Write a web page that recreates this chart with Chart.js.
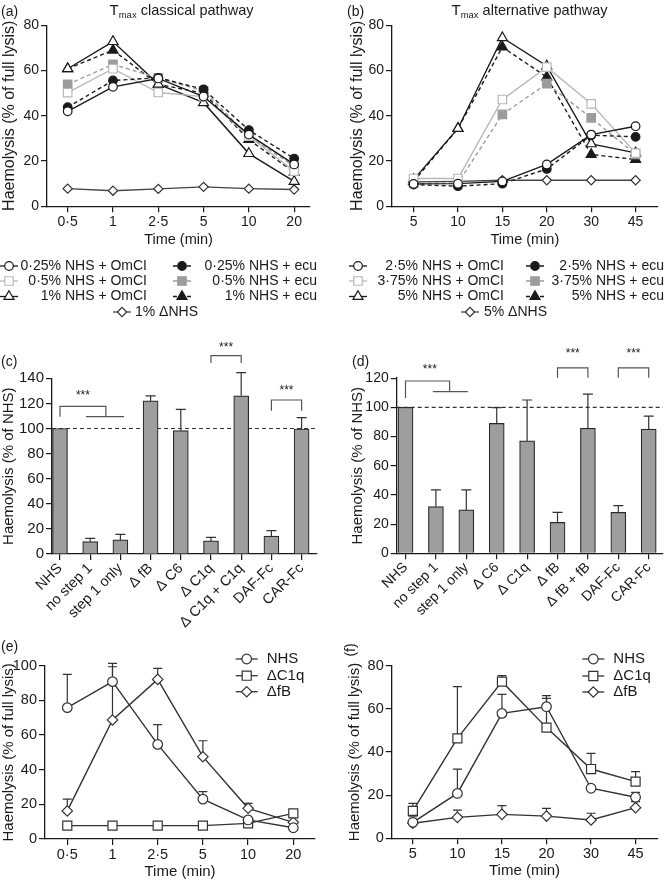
<!DOCTYPE html>
<html><head><meta charset="utf-8">
<script src="https://cdn.jsdelivr.net/npm/chart.js@4.4.1/dist/chart.umd.min.js"></script>
<style>
html,body{margin:0;padding:0;background:#fff;}
body{width:665px;height:882px;position:relative;overflow:hidden;}
canvas{position:absolute;}
</style></head><body>
<canvas id="cA" style="left:0px;top:0px;width:332px;height:335px" width="332" height="335"></canvas>
<canvas id="cB" style="left:332px;top:0px;width:333px;height:335px" width="333" height="335"></canvas>
<canvas id="cC" style="left:0px;top:335px;width:332px;height:300px" width="332" height="300"></canvas>
<canvas id="cD" style="left:332px;top:335px;width:333px;height:300px" width="333" height="300"></canvas>
<canvas id="cE" style="left:0px;top:590px;width:332px;height:292px" width="332" height="292"></canvas>
<canvas id="cF" style="left:332px;top:590px;width:333px;height:292px" width="333" height="292"></canvas>
<script>
// ---------------- DATA ----------------
const timeClassical = ['0·5','1','2·5','5','10','20'];
const timeAlternative = ['5','10','15','20','30','45'];

// (a) Tmax classical pathway (% of full lysis)
const a_omcl025 = [42, 52.8, 56.5, 48.5, 31.7, 18.5];
const a_ecu025  = [43.8, 55.6, 56.8, 51.7, 33.7, 21.1];
const a_omcl05  = [50.2, 60.8, 50.3, 48.5, 31, 15.5];
const a_ecu05   = [53.9, 62.7, 56.8, 51, 31, 17.7];
const a_omcl1   = [60.8, 72.8, 54, 45.8, 23.3, 11];
const a_ecu1    = [60.8, 69, 53.9, 50, 29.5, 15];
const a_dnhs1   = [7.8, 6.9, 7.7, 8.6, 7.8, 7.4];

// (b) Tmax alternative pathway (% of full lysis)
const b_omcl25  = [9.9, 10, 11, 18.5, 31.7, 35.4];
const b_ecu25   = [9.6, 8.9, 10, 16.5, 31.4, 30.7];
const b_omcl375 = [12.3, 12.3, 47.2, 61.5, 45.3, 23.5];
const b_ecu375  = [10.3, 10.3, 40.6, 54.2, 39.1, 22.9];
const b_omcl5   = [11.8, 34.4, 74.5, 62, 27.6, 23.6];
const b_ecu5    = [11, 34.4, 70.4, 57.1, 22.9, 20.7];
const b_dnhs5   = [10.8, 11, 11.5, 11.5, 11.5, 11.5];

// (c) classical, % of NHS
const c_labels = ['NHS','no step 1','step 1 only','Δ fB','Δ C6','Δ C1q','Δ C1q + C1q','DAF-Fc','CAR-Fc'];
const c_values = [100, 9.8, 11.2, 122, 98.3, 10.4, 126, 14.3, 99.6];
const c_errTop = [null, 12.5, 15.7, 126, 115.3, 13.3, 144.5, 18.6, 108.7];

// (d) alternative, % of NHS
const d_labels = ['NHS','no step 1','step 1 only','Δ C6','Δ C1q','Δ fB','Δ fB + fB','DAF-Fc','CAR-Fc'];
const d_values = [100, 32, 29.7, 89, 77, 21.2, 85.6, 28, 85];
const d_errTop = [null, 43.4, 43.4, 99.8, 105, 28, 109, 32.6, 94];

// (e) classical time course
const e_nhs     = [75.8, 90.8, 54.6, 23, 11, 6.5];
const e_nhsErr  = [95, 101.3, 66, 27.3, null, null];
const e_dc1q    = [7.7, 7.7, 7.7, 7.7, 9, 14.8];
const e_dc1qErr = [null, null, null, null, null, null];
const e_dfb     = [16.2, 68.7, 92.1, 47.5, 17.7, 9.6];
const e_dfbErr  = [23, 99.4, 98.5, 56.7, 20.6, null];

// (f) alternative time course
const f_nhs     = [7.4, 20.8, 57.9, 61, 23.2, 19];
const f_nhsErr  = [null, 32.1, 66.7, 66.1, null, 21.3];
const f_dc1q    = [12.7, 46.3, 72.6, 51.3, 32.1, 26.3];
const f_dc1qErr = [16.2, 70.3, 75.4, 64.9, 39.4, 30.9];
const f_dfb     = [7, 9.7, 11.1, 10.3, 8.5, 14.2];
const f_dfbErr  = [10, 13.1, 15.1, 13.9, 11.6, 17];

// ---------------- STYLE ----------------
const FONT = '"Liberation Sans", Arial, Helvetica, sans-serif';
const INK = '#1a1a1a';
const LIGHT = '#b8b8b8';
const MID = '#9c9c9c';

function drawMarker(ctx, style, r, x, y, fill, stroke, lw) {
  ctx.save();
  ctx.beginPath();
  if (style === 'circle') ctx.arc(x, y, r, 0, Math.PI * 2);
  else if (style === 'rect') { const s = r * Math.SQRT1_2; ctx.rect(x - s, y - s, 2 * s, 2 * s); }
  else if (style === 'triangle') {
    let a = 0;
    ctx.moveTo(x + Math.sin(a) * r, y - Math.cos(a) * r);
    a += 2 * Math.PI / 3; ctx.lineTo(x + Math.sin(a) * r, y - Math.cos(a) * r);
    a += 2 * Math.PI / 3; ctx.lineTo(x + Math.sin(a) * r, y - Math.cos(a) * r);
    ctx.closePath();
  } else if (style === 'rectRot') {
    ctx.moveTo(x - r, y); ctx.lineTo(x, y - r); ctx.lineTo(x + r, y); ctx.lineTo(x, y + r); ctx.closePath();
  }
  ctx.fillStyle = fill; ctx.fill();
  ctx.lineWidth = lw; ctx.strokeStyle = stroke; ctx.stroke();
  ctx.restore();
}

const decorPlugin = {
  id: 'decor',
  beforeDatasetsDraw(chart, args, o) {
    if (!o || !o.on) return;
    const ctx = chart.ctx, xs = chart.scales.x, ys = chart.scales.y, ca = chart.chartArea;
    if (o.refLine != null) {
      ctx.save(); ctx.strokeStyle = '#333'; ctx.lineWidth = 1.2; ctx.setLineDash([4, 3]);
      const y = ys.getPixelForValue(o.refLine);
      ctx.beginPath(); ctx.moveTo(ca.left, y); ctx.lineTo(ca.right, y); ctx.stroke(); ctx.restore();
    }
    chart.data.datasets.forEach(ds => {
      if (!ds.errTop) return;
      ctx.save(); ctx.strokeStyle = o.errColor || '#333'; ctx.lineWidth = 1.2;
      ds.errTop.forEach((t, i) => {
        if (t == null) return;
        const p = ds.data[i];
        const x = xs.getPixelForValue(p.x), y0 = ys.getPixelForValue(p.y), y1 = ys.getPixelForValue(t);
        ctx.beginPath(); ctx.moveTo(x, y0); ctx.lineTo(x, y1);
        ctx.moveTo(x - o.cap, y1); ctx.lineTo(x + o.cap, y1); ctx.stroke();
      });
      ctx.restore();
    });
  },
  afterDraw(chart, args, o) {
    if (!o || !o.on) return;
    const ctx = chart.ctx, xs = chart.scales.x, ys = chart.scales.y;
    (o.brackets || []).forEach(b => {
      ctx.save(); ctx.strokeStyle = '#555'; ctx.lineWidth = 1.2;
      const x1 = xs.getPixelForValue(b.x1), x2 = xs.getPixelForValue(b.x2);
      ctx.beginPath();
      ctx.moveTo(x1, ys.getPixelForValue(b.yLeft));
      ctx.lineTo(x1, ys.getPixelForValue(b.yTop));
      ctx.lineTo(x2, ys.getPixelForValue(b.yTop));
      ctx.lineTo(x2, ys.getPixelForValue(b.yRight));
      if (b.sub) {
        const yr = ys.getPixelForValue(b.yRight);
        ctx.moveTo(xs.getPixelForValue(b.sub[0]), yr);
        ctx.lineTo(xs.getPixelForValue(b.sub[1]), yr);
      }
      ctx.stroke();
      ctx.fillStyle = INK; ctx.font = '12px ' + FONT; ctx.textAlign = 'center'; ctx.textBaseline = 'middle';
      ctx.fillText('***', xs.getPixelForValue(b.sx), ys.getPixelForValue(b.sy));
      ctx.restore();
    });
    (o.texts || []).forEach(t => {
      ctx.save(); ctx.fillStyle = INK; ctx.font = t.size + 'px ' + FONT;
      ctx.textAlign = t.align || 'left'; ctx.textBaseline = 'middle';
      ctx.translate(t.x, t.y); if (t.rot) ctx.rotate(t.rot);
      ctx.fillText(t.t, 0, 0); ctx.restore();
    });
    if (o.title) {
      const T = o.title;
      ctx.save(); ctx.fillStyle = INK; ctx.textBaseline = 'middle'; ctx.textAlign = 'left';
      ctx.font = '15px ' + FONT; const w1 = ctx.measureText(T.main).width;
      ctx.font = '9.5px ' + FONT; const w2 = ctx.measureText(T.sub).width;
      ctx.font = '14.5px ' + FONT; const w3 = ctx.measureText(T.rest).width;
      let x = T.cx - (w1 + w2 + w3) / 2;
      ctx.font = '15px ' + FONT; ctx.fillText(T.main, x, T.y); x += w1;
      ctx.font = '9.5px ' + FONT; ctx.fillText(T.sub, x, T.y + 4); x += w2;
      ctx.font = '14.5px ' + FONT; ctx.fillText(T.rest, x, T.y);
      ctx.restore();
    }
    (o.legend || []).forEach(L => {
      const ds = chart.data.datasets[L.ds];
      ctx.save();
      ctx.strokeStyle = ds.borderColor; ctx.lineWidth = 1.3; ctx.setLineDash(ds.borderDash || []);
      ctx.beginPath(); ctx.moveTo(L.sx - L.half, L.y); ctx.lineTo(L.sx + L.half, L.y); ctx.stroke();
      ctx.setLineDash([]);
      drawMarker(ctx, ds.pointStyle, ds.pointRadius, L.sx, L.y, ds.pointBackgroundColor, ds.pointBorderColor, 1.2);
      ctx.fillStyle = INK; ctx.font = L.size + 'px ' + FONT; ctx.textBaseline = 'middle';
      ctx.textAlign = L.align; ctx.fillText(ds.label, L.tx, L.y);
      ctx.restore();
    });
  }
};
Chart.register(decorPlugin);

function lineDS(label, values, st, err) {
  return {
    label, data: values.map((v, i) => ({x: i, y: v})),
    borderColor: st.line, borderWidth: 1.4, borderDash: st.dash || [],
    pointStyle: st.style, pointRadius: st.r, pointBackgroundColor: st.fill,
    pointBorderColor: st.stroke, pointBorderWidth: 1.2, tension: 0, fill: false,
    errTop: err || null
  };
}

function makeScales(p) {
  const grid = { display: true, drawOnChartArea: false, drawTicks: true, tickLength: 6, color: INK, lineWidth: 1.2, offset: false };
  const border = { display: true, color: INK, width: 1.3 };
  return {
    x: {
      type: 'linear', min: p.xmin, max: p.xmax, offset: false, bounds: 'data',
      afterBuildTicks: s => { s.ticks = p.labels.map((_, i) => ({value: i})); },
      afterFit: s => { s.height = p.xH; },
      ticks: { autoSkip: false, maxRotation: p.rot || 0, minRotation: p.rot || 0, padding: p.xTickPad == null ? 1 : p.xTickPad,
        color: INK, font: {family: FONT, size: p.xTickSize || p.tickSize}, callback: v => p.labels[v] },
      grid, border,
      title: p.xTitle ? { display: true, text: p.xTitle, color: INK, font: {family: FONT, size: p.xTitleSize}, padding: 0 } : { display: false }
    },
    y: {
      type: 'linear', min: 0, max: p.ymax,
      afterFit: s => { s.width = p.yW; },
      ticks: { stepSize: 20, padding: 2, color: INK, font: {family: FONT, size: p.tickSize} },
      grid, border,
      title: { display: true, text: p.yTitle, color: INK, font: {family: FONT, size: p.yTitleSize}, padding: 0 }
    }
  };
}

function mkChart(id, type, datasets, p) {
  return new Chart(document.getElementById(id), {
    type, data: { datasets },
    options: {
      responsive: false, animation: false, events: [],
      layout: { padding: p.pad },
      plugins: { legend: {display: false}, tooltip: {enabled: false}, decor: Object.assign({on: true}, p.decor) },
      scales: makeScales(p)
    }
  });
}

const S = {
  openCircle:   {line: INK, style: 'circle', r: 4.3, fill: '#fff', stroke: INK},
  fillCircle:   {line: INK, dash: [4, 3], style: 'circle', r: 4.3, fill: INK, stroke: INK},
  openSquare:   {line: LIGHT, style: 'rect', r: 6, fill: '#fff', stroke: LIGHT},
  fillSquare:   {line: MID, dash: [4, 3], style: 'rect', r: 6, fill: MID, stroke: MID},
  openTri:      {line: INK, style: 'triangle', r: 5.8, fill: '#fff', stroke: INK},
  fillTri:      {line: INK, dash: [4, 3], style: 'triangle', r: 5.8, fill: INK, stroke: INK},
  openDiamond:  {line: '#444', style: 'rectRot', r: 4.6, fill: '#fff', stroke: '#333'},
  eCircle:      {line: '#333', style: 'circle', r: 4.8, fill: '#fff', stroke: '#333'},
  eSquare:      {line: '#333', style: 'rect', r: 6.4, fill: '#fff', stroke: '#333'},
  eDiamond:     {line: '#333', style: 'rectRot', r: 5.2, fill: '#fff', stroke: '#333'}
};

// ---------------- (a) ----------------
const legRowsAB = [266, 281, 296.5, 312];
mkChart('cA', 'line', [
  lineDS('0·25% NHS + OmCI', a_omcl025, S.openCircle),
  lineDS('0·25% NHS + ecu', a_ecu025, S.fillCircle),
  lineDS('0·5% NHS + OmCI', a_omcl05, S.openSquare),
  lineDS('0·5% NHS + ecu', a_ecu05, S.fillSquare),
  lineDS('1% NHS + OmCI', a_omcl1, S.openTri),
  lineDS('1% NHS + ecu', a_ecu1, S.fillTri),
  lineDS('1% ΔNHS', a_dnhs1, S.openDiamond)
], {
  labels: timeClassical, xmin: -0.457, xmax: 5.35, ymax: 80, yW: 47, xH: 42.4,
  pad: {left: 0, top: 25.3, right: 22, bottom: 86.3},
  tickSize: 14, yTitle: 'Haemolysis (% of full lysis)', yTitleSize: 16, xTitle: 'Time (min)', xTitleSize: 14.5,
  decor: {
    title: {cx: 181.5, y: 11, main: 'T', sub: 'max', rest: ' classical pathway'},
    texts: [{t: '(a)', x: 1, y: 12, size: 14}],
    legend: [
      {ds: 0, sx: 9, y: legRowsAB[0], tx: 147, align: 'right', half: 9, size: 14},
      {ds: 1, sx: 182, y: legRowsAB[0], tx: 317, align: 'right', half: 9, size: 14},
      {ds: 2, sx: 9, y: legRowsAB[1], tx: 147, align: 'right', half: 9, size: 14},
      {ds: 3, sx: 182, y: legRowsAB[1], tx: 317, align: 'right', half: 9, size: 14},
      {ds: 4, sx: 9, y: legRowsAB[2], tx: 147, align: 'right', half: 9, size: 14},
      {ds: 5, sx: 182, y: legRowsAB[2], tx: 317, align: 'right', half: 9, size: 14},
      {ds: 6, sx: 122, y: legRowsAB[3], tx: 135, align: 'left', half: 9, size: 14}
    ]
  }
});

// ---------------- (b) ----------------
mkChart('cB', 'line', [
  lineDS('2·5% NHS + OmCI', b_omcl25, S.openCircle),
  lineDS('2·5% NHS + ecu', b_ecu25, S.fillCircle),
  lineDS('3·75% NHS + OmCI', b_omcl375, S.openSquare),
  lineDS('3·75% NHS + ecu', b_ecu375, S.fillSquare),
  lineDS('5% NHS + OmCI', b_omcl5, S.openTri),
  lineDS('5% NHS + ecu', b_ecu5, S.fillTri),
  lineDS('5% ΔNHS', b_dnhs5, S.openDiamond)
], {
  labels: timeAlternative, xmin: -0.486, xmax: 5.50, ymax: 80, yW: 43.6, xH: 42.4,
  pad: {left: 16.4, top: 25.3, right: 2, bottom: 86.3},
  tickSize: 14, yTitle: 'Haemolysis (% of full lysis)', yTitleSize: 16, xTitle: 'Time (min)', xTitleSize: 14.5,
  decor: {
    title: {cx: 197.5, y: 11, main: 'T', sub: 'max', rest: ' alternative pathway'},
    texts: [{t: '(b)', x: 15, y: 12, size: 14}],
    legend: [
      {ds: 0, sx: 26, y: legRowsAB[0], tx: 172, align: 'right', half: 9, size: 14},
      {ds: 1, sx: 203, y: legRowsAB[0], tx: 332, align: 'right', half: 9, size: 14},
      {ds: 2, sx: 26, y: legRowsAB[1], tx: 172, align: 'right', half: 9, size: 14},
      {ds: 3, sx: 203, y: legRowsAB[1], tx: 332, align: 'right', half: 9, size: 14},
      {ds: 4, sx: 26, y: legRowsAB[2], tx: 172, align: 'right', half: 9, size: 14},
      {ds: 5, sx: 203, y: legRowsAB[2], tx: 332, align: 'right', half: 9, size: 14},
      {ds: 6, sx: 138, y: legRowsAB[3], tx: 152, align: 'left', half: 9, size: 14}
    ]
  }
});

// ---------------- (c) ----------------
function barDS(values, errTop) {
  return {
    data: values.map((v, i) => ({x: i, y: v})), errTop,
    backgroundColor: '#9e9e9e', borderColor: '#2a2a2a', borderWidth: 1.2, barThickness: 15
  };
}
mkChart('cC', 'bar', [barDS(c_values, c_errTop)], {
  labels: c_labels, xmin: -0.265, xmax: 8.51, ymax: 140, yW: 52, xH: 80, rot: 45, xTickPad: 0,
  pad: {left: 0, top: 43.3, right: 15, bottom: 1},
  tickSize: 15, xTickSize: 14.5, yTitle: 'Haemolysis (% of NHS)', yTitleSize: 15,
  decor: {
    refLine: 100, cap: 5,
    texts: [{t: '(c)', x: 1, y: 27, size: 14}],
    brackets: [
      {x1: 0, x2: 1.52, yTop: 117.7, yLeft: 109.4, yRight: 109.4, sub: [0.86, 2.12], sx: 0.76, sy: 126},
      {x1: 5, x2: 6, yTop: 158, yLeft: 152.2, yRight: 152.2, sx: 5.5, sy: 164},
      {x1: 7, x2: 8, yTop: 122.7, yLeft: 114.2, yRight: 114.2, sx: 7.5, sy: 130.5}
    ]
  }
});

// ---------------- (d) ----------------
mkChart('cD', 'bar', [barDS(d_values, d_errTop)], {
  labels: d_labels, xmin: -0.29, xmax: 8.47, ymax: 120, yW: 47.7, xH: 80, rot: 45, xTickPad: 0,
  pad: {left: 17, top: 43.1, right: 2, bottom: 1.7},
  tickSize: 14, xTickSize: 14, yTitle: 'Haemolysis (% of NHS)', yTitleSize: 15,
  decor: {
    refLine: 100, cap: 5,
    texts: [{t: '(d)', x: 20, y: 27, size: 14}],
    brackets: [
      {x1: 0, x2: 1.45, yTop: 118, yLeft: 106.4, yRight: 110.7, sub: [0.9, 2.05], sx: 0.8, sy: 125.6},
      {x1: 5, x2: 6, yTop: 127, yLeft: 120.3, yRight: 120.3, sx: 5.5, sy: 137},
      {x1: 7, x2: 8, yTop: 127, yLeft: 120.3, yRight: 120.3, sx: 7.5, sy: 137}
    ]
  }
});

// ---------------- (e) ----------------
mkChart('cE', 'line', [
  lineDS('NHS', e_nhs, S.eCircle, e_nhsErr),
  lineDS('ΔC1q', e_dc1q, S.eSquare, e_dc1qErr),
  lineDS('ΔfB', e_dfb, S.eDiamond, e_dfbErr)
], {
  labels: timeClassical, xmin: -0.493, xmax: 5.48, ymax: 100, yW: 45, xH: 41.7,
  pad: {left: 0, top: 75.7, right: 17, bottom: 1.3},
  tickSize: 14.5, yTitle: 'Haemolysis (% of full lysis)', yTitleSize: 15, xTitle: 'Time (min)', xTitleSize: 15,
  decor: {
    cap: 4.5,
    texts: [{t: '(e)', x: 1, y: 57, size: 14}],
    legend: [
      {ds: 0, sx: 246.7, y: 69, tx: 266.7, align: 'left', half: 11, size: 15},
      {ds: 1, sx: 246.7, y: 85.7, tx: 266.7, align: 'left', half: 11, size: 15},
      {ds: 2, sx: 246.7, y: 101.7, tx: 266.7, align: 'left', half: 11, size: 15}
    ]
  }
});

// ---------------- (f) ----------------
mkChart('cF', 'line', [
  lineDS('NHS', f_nhs, S.eCircle, f_nhsErr),
  lineDS('ΔC1q', f_dc1q, S.eSquare, f_dc1qErr),
  lineDS('ΔfB', f_dfb, S.eDiamond, f_dfbErr)
], {
  labels: timeAlternative, xmin: -0.475, xmax: 5.49, ymax: 80, yW: 45.7, xH: 41.7,
  pad: {left: 14, top: 75.7, right: 2, bottom: 2},
  tickSize: 14.5, yTitle: 'Haemolysis (% of full lysis)', yTitleSize: 15, xTitle: 'Time (min)', xTitleSize: 15,
  decor: {
    cap: 4.5,
    texts: [{t: '(f)', x: 19, y: 60, size: 14, align: 'center', rot: -Math.PI / 2}],
    legend: [
      {ds: 0, sx: 261.3, y: 69, tx: 281.3, align: 'left', half: 11, size: 15},
      {ds: 1, sx: 261.3, y: 86, tx: 281.3, align: 'left', half: 11, size: 15},
      {ds: 2, sx: 261.3, y: 102, tx: 281.3, align: 'left', half: 11, size: 15}
    ]
  }
});
</script>
</body></html>
